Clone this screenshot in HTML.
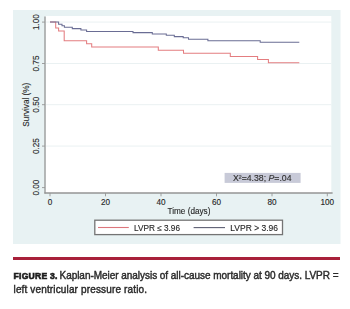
<!DOCTYPE html>
<html><head><meta charset="utf-8"><style>
html,body{margin:0;padding:0;background:#fff;width:350px;height:309px;overflow:hidden}
svg{display:block;filter:blur(0.3px)}
.t{font-family:"Liberation Sans",sans-serif;font-size:8.2px;fill:#262626;stroke:#262626;stroke-width:0.12px}
.c{font-family:"Liberation Sans",sans-serif;fill:#2b2b2b}
</style></head><body>
<svg width="350" height="309" viewBox="0 0 350 309">
<rect x="13" y="10" width="327.5" height="234" fill="#e8f2f3"/>
<rect x="45.5" y="16" width="285.8" height="177" fill="#fff"/>
<line x1="46" y1="22.1" x2="331.3" y2="22.1" stroke="#e8eff1" stroke-width="0.9"/><line x1="46" y1="63.5" x2="331.3" y2="63.5" stroke="#e8eff1" stroke-width="0.9"/><line x1="46" y1="104.7" x2="331.3" y2="104.7" stroke="#e8eff1" stroke-width="0.9"/><line x1="46" y1="146.1" x2="331.3" y2="146.1" stroke="#e8eff1" stroke-width="0.9"/>
<polyline points="50,22 55.7,22 55.7,28 58.6,28 58.6,31 64.2,31 64.2,40.7 86.6,40.7 86.6,43.8 91.7,43.8 91.7,47 158.3,47 158.3,50.2 183.5,50.2 183.5,53.2 230.3,53.2 230.3,56.4 257.6,56.4 257.6,59.5 268.4,59.5 268.4,62.7 299.3,62.7" fill="none" stroke="#e47d80" stroke-width="1.05"/>
<polyline points="50,22 58.6,22 58.6,24.2 62,24.2 62,25.7 64.4,25.7 64.4,27.3 72.3,27.3 72.3,28.6 80.9,28.6 80.9,30 86.6,30 86.6,31.4 133,31.4 133,32.6 152.3,32.6 152.3,33.9 166.3,33.9 166.3,35.2 174.3,35.2 174.3,36.6 183.2,36.6 183.2,37.8 188.5,37.8 188.5,39.3 207.9,39.3 207.9,40.8 260.2,40.8 260.2,42.2 299.3,42.2" fill="none" stroke="#6a6d94" stroke-width="1.05"/>
<line x1="45" y1="16.5" x2="45" y2="193.6" stroke="#959595" stroke-width="1.3"/>
<line x1="44.4" y1="193" x2="332.6" y2="193" stroke="#959595" stroke-width="1.3"/>
<line x1="42" y1="22.1" x2="45" y2="22.1" stroke="#959595" stroke-width="0.9"/><line x1="42" y1="63.5" x2="45" y2="63.5" stroke="#959595" stroke-width="0.9"/><line x1="42" y1="104.7" x2="45" y2="104.7" stroke="#959595" stroke-width="0.9"/><line x1="42" y1="146.1" x2="45" y2="146.1" stroke="#959595" stroke-width="0.9"/><line x1="42" y1="187.6" x2="45" y2="187.6" stroke="#959595" stroke-width="0.9"/><line x1="50" y1="193" x2="50" y2="196.3" stroke="#959595" stroke-width="0.9"/><line x1="105.5" y1="193" x2="105.5" y2="196.3" stroke="#959595" stroke-width="0.9"/><line x1="161" y1="193" x2="161" y2="196.3" stroke="#959595" stroke-width="0.9"/><line x1="216.5" y1="193" x2="216.5" y2="196.3" stroke="#959595" stroke-width="0.9"/><line x1="272" y1="193" x2="272" y2="196.3" stroke="#959595" stroke-width="0.9"/><line x1="327.3" y1="193" x2="327.3" y2="196.3" stroke="#959595" stroke-width="0.9"/><text transform="translate(38.6,22.1) rotate(-90)" text-anchor="middle" class="t">1.00</text><text transform="translate(38.6,63.5) rotate(-90)" text-anchor="middle" class="t">0.75</text><text transform="translate(38.6,104.7) rotate(-90)" text-anchor="middle" class="t">0.50</text><text transform="translate(38.6,146.1) rotate(-90)" text-anchor="middle" class="t">0.25</text><text transform="translate(38.6,187.6) rotate(-90)" text-anchor="middle" class="t">0.00</text><text x="50" y="204.5" text-anchor="middle" class="t">0</text><text x="105.5" y="204.5" text-anchor="middle" class="t">20</text><text x="161" y="204.5" text-anchor="middle" class="t">40</text><text x="216.5" y="204.5" text-anchor="middle" class="t">60</text><text x="272" y="204.5" text-anchor="middle" class="t">80</text><text x="327.3" y="204.5" text-anchor="middle" class="t">100</text>
<text transform="translate(29,104.75) rotate(-90)" text-anchor="middle" class="t">Survival (%)</text>
<text x="189" y="213.6" text-anchor="middle" class="t">Time (days)</text>
<rect x="224.6" y="172.9" width="76" height="10" fill="#c8cad8"/>
<text x="233" y="180.6" class="t" style="font-size:8.4px;fill:#333" textLength="58.5" lengthAdjust="spacingAndGlyphs">X²=4.38; <tspan font-style="italic">P</tspan>=.04</text>
<rect x="94.8" y="220.2" width="187.7" height="14.4" fill="#fff" stroke="#747474" stroke-width="1.3"/>
<line x1="98" y1="227.5" x2="128.8" y2="227.5" stroke="#dc767c" stroke-width="1.1"/>
<line x1="193.6" y1="227.6" x2="225" y2="227.6" stroke="#5c5e72" stroke-width="1.1"/>
<text x="134" y="231" class="t" textLength="46" lengthAdjust="spacingAndGlyphs">LVPR ≤ 3.96</text>
<text x="230.3" y="231" class="t" textLength="47.6" lengthAdjust="spacingAndGlyphs">LVPR &gt; 3.96</text>
<rect x="13" y="257" width="327" height="3" fill="#a8203a"/>
<text x="13.5" y="278.7" class="c" style="font-size:8.6px;font-weight:bold;fill:#1c1c1c;stroke:#1c1c1c;stroke-width:0.6px" textLength="44" lengthAdjust="spacing">FIGURE 3.</text>
<text x="59.5" y="278.7" class="c" style="font-size:10px" stroke="#2b2b2b" stroke-width="0.42" textLength="279" lengthAdjust="spacing">Kaplan-Meier analysis of all-cause mortality at 90 days. LVPR =</text>
<text x="13.5" y="292.8" class="c" style="font-size:10px" stroke="#2b2b2b" stroke-width="0.42" textLength="133.5" lengthAdjust="spacing">left ventricular pressure ratio.</text>
</svg>
</body></html>
